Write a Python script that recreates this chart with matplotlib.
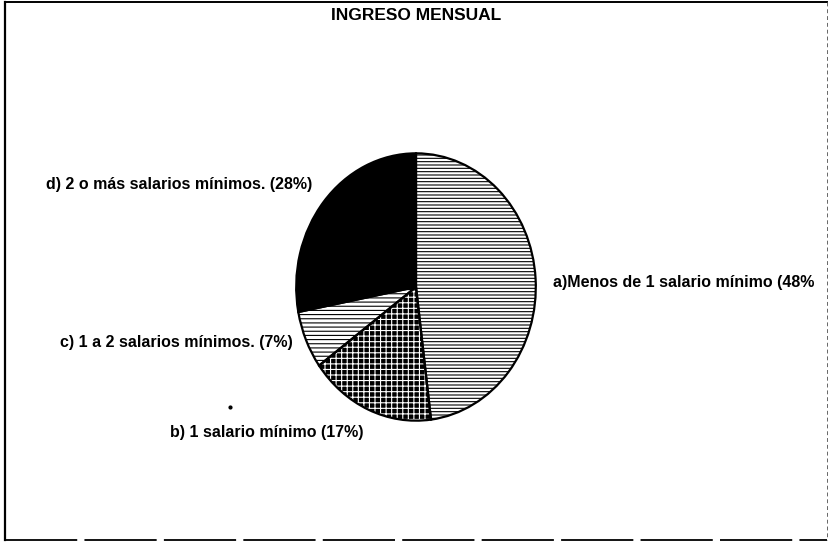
import matplotlib.pyplot as plt

plt.rcParams['hatch.linewidth'] = 0.8

# data
categories = ['a)Menos de 1 salario mínimo (48%',
              'b) 1 salario mínimo (17%)',
              'c) 1 a 2 salarios mínimos. (7%)',
              'd) 2 o más salarios mínimos. (28%)']
shares = [48, 17, 7, 28]
title = 'INGRESO MENSUAL'

W, H = 831, 544
fig = plt.figure(figsize=(W / 100, H / 100), dpi=100)

# pie axes (the scan is a bit taller than wide)
px0, px1, py0, py1 = 295, 537, 152, 422
ax = fig.add_axes([px0 / W, (H - py1) / H, (px1 - px0) / W, (py1 - py0) / H])

faces = ['white', 'black', 'white', 'black']
hatch_cols = ['black', 'white', 'black', 'black']
hatches = ['-----', '+++', '----', '']

wedges, _ = ax.pie(shares, startangle=90, counterclock=False, radius=1,
                   colors=faces)
for w, hc, h in zip(wedges, hatch_cols, hatches):
    w.set_edgecolor(hc)
    w.set_hatch(h)
    w.set_linewidth(0)

# outlines on top
ax.pie(shares, startangle=90, counterclock=False, radius=1,
       wedgeprops=dict(fill=False, edgecolor='black', linewidth=1.6))
ax.set_aspect('auto')
ax.set_xlim(-1.01, 1.01)
ax.set_ylim(-1.01, 1.01)
ax.axis('off')

# overlay axes in pixel coords for frame and text, drawn above the pie
ov = fig.add_axes([0, 0, 1, 1], zorder=3)
ov.set_xlim(0, W)
ov.set_ylim(H, 0)
ov.axis('off')

font = dict(family=['Liberation Sans', 'DejaVu Sans'],
            fontweight='bold', fontsize=11.5, color='black')

ov.text(416, 15, title, ha='center', va='center',
        **{**font, 'fontsize': 12.5})
# (x, y, alignment) of each label
label_pos = [(553, 283, 'left'), (170, 433, 'left'),
             (293, 343, 'right'), (312, 184, 'right')]
for lab, (x, y, ha) in zip(categories, label_pos):
    ov.text(x, y, lab, ha=ha, va='center', **font)

# stray dot from the scan
ov.plot([230], [407], 'o', color='black', markersize=2)

# scanned frame: solid left/top, slightly broken bottom, faint right
ov.plot([5, 5], [2, 540], color='black', lw=1.6)
ov.plot([5, 827], [2, 2], color='black', lw=1.4)
ov.plot([5, 827], [540, 540], color='black', lw=1.3, ls=(0, (40, 4)))
ov.plot([827, 827], [2, 540], color='#666666', lw=0.7, ls=(0, (4, 3)))

fig.savefig('out.png', dpi=100, facecolor='white')
